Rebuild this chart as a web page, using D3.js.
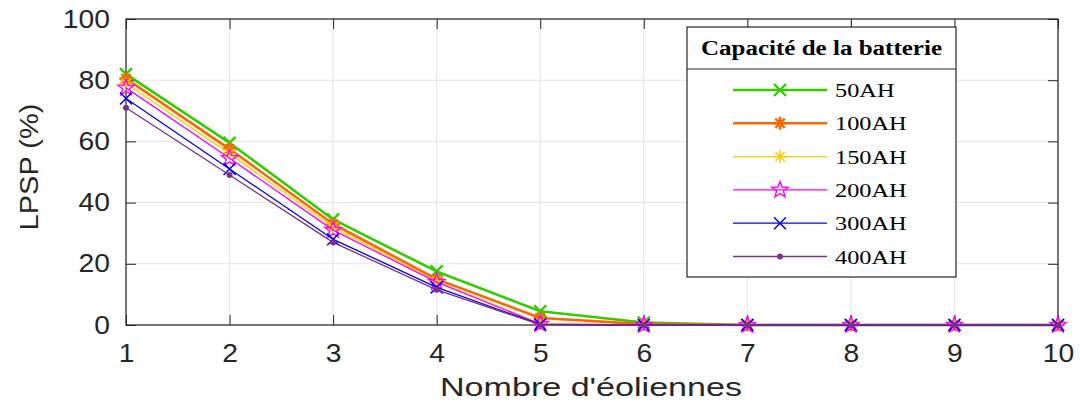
<!DOCTYPE html>
<html>
<head>
<meta charset="utf-8">
<script src="https://cdn.jsdelivr.net/npm/d3@7"></script>
<style>
	body { margin: 0; background: #fff; }
	svg { display: block; }
</style>
</head>
<body>
<svg id="chart" width="1080" height="403"></svg>
<script>
// data
var categories = [1, 2, 3, 4, 5, 6, 7, 8, 9, 10];
var s50  = [82, 59.5, 34.5, 17.5, 4.5, 0.8, 0, 0, 0, 0];
var s100 = [80.5, 57.5, 33, 15, 2.3, 0.3, 0, 0, 0, 0];
var s150 = [79, 56, 32, 14.3, 0.5, 0, 0, 0, 0, 0];
var s200 = [77.5, 54.5, 31, 14, 0.3, 0, 0, 0, 0, 0];
var s300 = [74, 51, 28, 12.3, 0.2, 0, 0, 0, 0, 0];
var s400 = [71, 49, 27, 11.5, 0.1, 0, 0, 0, 0, 0];
var seriesNames = ['50AH', '100AH', '150AH', '200AH', '300AH', '400AH'];
var yTicks = [0, 20, 40, 60, 80, 100];

var series = [
	{ name: seriesNames[0], values: s50,  color: '#33cc00', width: 2.6, marker: 'x',    size: 6 },
	{ name: seriesNames[1], values: s100, color: '#ff6600', width: 2.6, marker: 'star8', size: 6.5 },
	{ name: seriesNames[2], values: s150, color: '#ffcc00', width: 1.3, marker: 'star8', size: 6.5 },
	{ name: seriesNames[3], values: s200, color: '#ff00ff', width: 1.3, marker: 'penta', size: 8.5 },
	{ name: seriesNames[4], values: s300, color: '#0000ff', width: 1.3, marker: 'x',    size: 6 },
	{ name: seriesNames[5], values: s400, color: '#7e2f8e', width: 1.3, marker: 'dot',  size: 3 }
];

var svg = d3.select('#chart');
var m = { left: 126, right: 1058, top: 19, bottom: 325 };
var axisColor = '#262626';

var x = d3.scaleLinear().domain([1, 10]).range([m.left, m.right]);
var y = d3.scaleLinear().domain([0, 100]).range([m.bottom, m.top]);

// stretch text horizontally like the reference
function stretch(sel, factor) {
	sel.each(function() {
		var w = this.getComputedTextLength();
		d3.select(this).attr('textLength', w * factor).attr('lengthAdjust', 'spacingAndGlyphs');
	});
}

// grid
svg.append('g').selectAll('line').data(categories).enter().append('line')
	.attr('x1', d => x(d)).attr('x2', d => x(d))
	.attr('y1', m.top).attr('y2', m.bottom)
	.style('stroke', '#e3e3e3').style('stroke-width', 1);
svg.append('g').selectAll('line').data(yTicks).enter().append('line')
	.attr('x1', m.left).attr('x2', m.right)
	.attr('y1', d => y(d)).attr('y2', d => y(d))
	.style('stroke', '#e3e3e3').style('stroke-width', 1);

// axes (inward ticks, box)
var xAxis = g => g
	.attr('transform', `translate(0, ${m.bottom})`)
	.call(d3.axisBottom(x).tickValues(categories).tickSize(-10).tickPadding(19).tickFormat(d3.format('d')))
	.call(g => g.select('.domain').remove());
var xAxisTop = g => g
	.attr('transform', `translate(0, ${m.top})`)
	.call(d3.axisTop(x).tickValues(categories).tickSize(-10).tickFormat(''))
	.call(g => g.select('.domain').remove());
var yAxis = g => g
	.attr('transform', `translate(${m.left}, 0)`)
	.call(d3.axisLeft(y).tickValues(yTicks).tickSize(-10).tickPadding(16))
	.call(g => g.select('.domain').remove());
var yAxisRight = g => g
	.attr('transform', `translate(${m.right}, 0)`)
	.call(d3.axisRight(y).tickValues(yTicks).tickSize(-10).tickFormat(''))
	.call(g => g.select('.domain').remove());

[xAxis, xAxisTop, yAxis, yAxisRight].forEach(function(a) {
	var g = svg.append('g').call(a);
	g.selectAll('line').style('stroke', axisColor).style('stroke-width', 1);
	g.selectAll('text')
		.style('font-family', '"Liberation Sans", Arial, sans-serif')
		.style('font-size', '25px')
		.style('fill', axisColor);
});
svg.selectAll('g.tick text').call(stretch, 1.13);

svg.append('rect')
	.attr('x', m.left).attr('y', m.top)
	.attr('width', m.right - m.left).attr('height', m.bottom - m.top)
	.style('fill', 'none').style('stroke', axisColor).style('stroke-width', 1.2);

// axis labels
svg.append('text')
	.attr('x', 591).attr('y', 396)
	.attr('text-anchor', 'middle')
	.style('font-family', '"Liberation Sans", Arial, sans-serif')
	.style('font-size', '26px').style('fill', axisColor)
	.text("Nombre d'éoliennes")
	.attr('textLength', 302).attr('lengthAdjust', 'spacingAndGlyphs');
svg.append('text')
	.attr('transform', 'translate(38, 167) rotate(-90)')
	.attr('text-anchor', 'middle')
	.style('font-family', '"Liberation Sans", Arial, sans-serif')
	.style('font-size', '26px').style('fill', axisColor)
	.text('LPSP (%)')
	.attr('textLength', 127).attr('lengthAdjust', 'spacingAndGlyphs');

// markers
function markerPath(type, s) {
	if (type === 'x') {
		return `M${-s},${-s}L${s},${s}M${-s},${s}L${s},${-s}`;
	}
	if (type === 'star8') {
		var d7 = s * 0.72;
		return `M0,${-s}L0,${s}M${-s},0L${s},0M${-d7},${-d7}L${d7},${d7}M${-d7},${d7}L${d7},${-d7}`;
	}
	if (type === 'penta') {
		var pts = [];
		for (var k = 0; k < 10; k++) {
			var r = k % 2 === 0 ? s : s * 0.42;
			var a = -Math.PI / 2 + k * Math.PI / 5;
			pts.push([r * Math.cos(a), r * Math.sin(a)]);
		}
		return 'M' + pts.map(p => p[0].toFixed(2) + ',' + p[1].toFixed(2)).join('L') + 'Z';
	}
	return null;
}

function drawMarker(g, sr, px, py) {
	if (sr.marker === 'dot') {
		g.append('circle').attr('cx', px).attr('cy', py).attr('r', sr.size)
			.style('fill', sr.color);
	} else {
		g.append('path')
			.attr('transform', `translate(${px}, ${py})`)
			.attr('d', markerPath(sr.marker, sr.size))
			.style('fill', 'none')
			.style('stroke', sr.color)
			.style('stroke-width', sr.marker === 'penta' ? 1.4 : (sr.width > 2 ? 2.4 : 1.5));
	}
}

var line = d3.line().x((d, i) => x(categories[i])).y(d => y(d));

series.forEach(function(sr) {
	var g = svg.append('g');
	g.append('path').datum(sr.values)
		.attr('d', line)
		.style('fill', 'none')
		.style('stroke', sr.color)
		.style('stroke-width', sr.width)
		.style('stroke-linejoin', 'round');
	sr.values.forEach(function(v, i) {
		drawMarker(g, sr, x(categories[i]), y(v));
	});
});

// legend
var lg = svg.append('g');
var lx = 687, ly = 27, lw = 269, lh = 250;
lg.append('rect').attr('x', lx).attr('y', ly).attr('width', lw).attr('height', lh)
	.style('fill', '#fff').style('stroke', axisColor).style('stroke-width', 1.2);
lg.append('line').attr('x1', lx).attr('x2', lx + lw).attr('y1', 69).attr('y2', 69)
	.style('stroke', axisColor).style('stroke-width', 1.2);
lg.append('text')
	.attr('x', lx + lw / 2).attr('y', 55)
	.attr('text-anchor', 'middle')
	.style('font-family', '"Liberation Serif", "Times New Roman", serif')
	.style('font-weight', 'bold').style('font-size', '20px').style('fill', '#000')
	.text('Capacité de la batterie')
	.attr('textLength', 241).attr('lengthAdjust', 'spacingAndGlyphs');

series.forEach(function(sr, i) {
	var ry = 90 + i * 33.3;
	lg.append('line').attr('x1', 733).attr('x2', 827).attr('y1', ry).attr('y2', ry)
		.style('stroke', sr.color).style('stroke-width', sr.width);
	drawMarker(lg, sr, 780, ry);
	var t = lg.append('text')
		.attr('x', 835).attr('y', ry + 7)
		.style('font-family', '"Liberation Serif", "Times New Roman", serif')
		.style('font-size', '19px').style('fill', '#000')
		.text(sr.name);
	t.call(stretch, 1.28);
});
</script>
</body>
</html>
